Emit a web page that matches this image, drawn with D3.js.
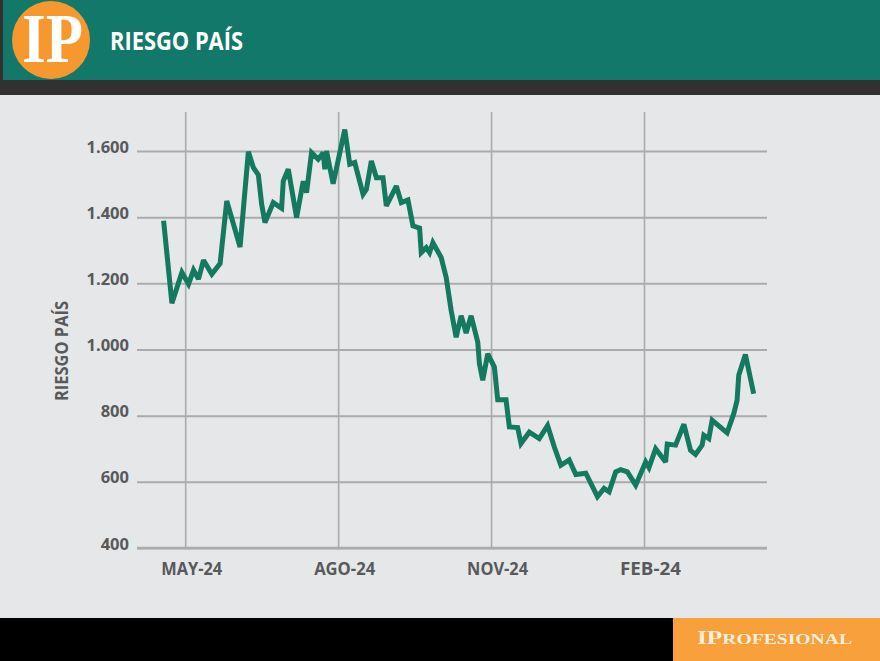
<!DOCTYPE html>
<html>
<head>
<meta charset="utf-8">
<script src="https://cdn.jsdelivr.net/npm/d3@7"></script>
<style>
  html, body { margin: 0; padding: 0; background: #e6e7e8; }
  svg { display: block; }
</style>
</head>
<body>
<div id="chart"></div>
<script>
// ---- Data ----
const dates = [
  "2024-04-18","2024-04-23","2024-04-29","2024-05-03","2024-05-06","2024-05-09","2024-05-12","2024-05-17",
  "2024-05-22","2024-05-26","2024-06-03","2024-06-08","2024-06-11","2024-06-14","2024-06-16","2024-06-18",
  "2024-06-23","2024-06-28","2024-06-29","2024-07-02","2024-07-07","2024-07-11","2024-07-13","2024-07-16",
  "2024-07-20","2024-07-23","2024-07-24","2024-07-25","2024-07-29","2024-08-05","2024-08-08","2024-08-11",
  "2024-08-16","2024-08-18","2024-08-21","2024-08-24","2024-08-28","2024-08-30","2024-09-05","2024-09-08",
  "2024-09-12","2024-09-15","2024-09-19","2024-09-20","2024-09-23","2024-09-25","2024-09-27","2024-10-02",
  "2024-10-05","2024-10-08","2024-10-11","2024-10-14","2024-10-17","2024-10-20","2024-10-24","2024-10-25",
  "2024-10-27","2024-10-30","2024-11-03","2024-11-05","2024-11-10","2024-11-12","2024-11-17","2024-11-19",
  "2024-11-24","2024-11-30","2024-12-05","2024-12-09","2024-12-13","2024-12-18","2024-12-22","2024-12-28",
  "2025-01-04","2025-01-08","2025-01-11","2025-01-15","2025-01-18","2025-01-22","2025-01-27","2025-02-02",
  "2025-02-04","2025-02-08","2025-02-14","2025-02-15","2025-02-20","2025-02-25","2025-03-01","2025-03-04",
  "2025-03-08","2025-03-09","2025-03-12","2025-03-14","2025-03-23","2025-03-27","2025-03-29","2025-03-30",
  "2025-04-03","2025-04-08"
];
const riesgo = [
  1389,1140,1233,1198,1240,1213,1270,1228,
  1260,1449,1310,1598,1550,1528,1439,1384,
  1444,1427,1509,1545,1399,1509,1474,1595,
  1575,1595,1545,1600,1501,1665,1560,1565,
  1469,1484,1570,1519,1519,1434,1494,1444,
  1452,1374,1367,1293,1308,1293,1323,1278,
  1218,1118,1037,1102,1050,1102,1022,957,
  907,987,947,848,848,766,764,716,
  750,731,770,706,650,666,622,626,
  555,580,570,630,637,630,590,660,
  643,700,660,714,711,774,695,683,
  711,741,731,786,748,806,846,922,
  985,866
];
const yTicks = [400, 600, 800, 1000, 1200, 1400, 1600];
const xTickDates = ["2024-05-01", "2024-08-01", "2024-11-01", "2025-02-01"];
const xTickLabels = ["MAY-24", "AGO-24", "NOV-24", "FEB-24"];
const xDomain = ["2024-04-02", "2025-04-16"];
const yDomain = [400, 1600];

// ---- Setup ----
const W = 880, H = 661;
const parse = d3.timeParse("%Y-%m-%d");
const data = dates.map((d, i) => ({ date: parse(d), value: riesgo[i] }));

const svg = d3.select("#chart").append("svg")
  .attr("width", W).attr("height", H)
  .attr("viewBox", `0 0 ${W} ${H}`);

// background
svg.append("rect").attr("width", W).attr("height", H).attr("fill", "#e6e7e8");

// header
svg.append("rect").attr("x", 0).attr("y", 0).attr("width", W).attr("height", 95).attr("fill", "#313131");
svg.append("rect").attr("x", 3).attr("y", 0).attr("width", W - 3).attr("height", 80).attr("fill", "#12796a");
svg.append("circle").attr("cx", 51).attr("cy", 40).attr("r", 39).attr("fill", "#f7982f");
svg.append("text").attr("x", 22).attr("y", 62)
  .attr("font-family", "'Liberation Serif', 'DejaVu Serif', serif")
  .attr("font-weight", 700)
  .attr("font-size", 70)
  .attr("fill", "#ffffff")
  .attr("textLength", 61).attr("lengthAdjust", "spacingAndGlyphs")
  .text("IP");
svg.append("text").attr("x", 110).attr("y", 50)
  .attr("font-family", "'Open Sans', sans-serif")
  .attr("font-weight", 700)
  .attr("font-size", 25)
  .attr("fill", "#ffffff")
  .attr("textLength", 133).attr("lengthAdjust", "spacingAndGlyphs")
  .text("RIESGO PAÍS");

// footer
svg.append("rect").attr("x", 0).attr("y", 618).attr("width", W).attr("height", H - 618).attr("fill", "#000000");
svg.append("rect").attr("x", 673).attr("y", 618).attr("width", W - 673).attr("height", H - 618).attr("fill", "#f7a03c");
const ft = svg.append("text").attr("x", 697).attr("y", 644)
  .attr("font-family", "'Liberation Serif', 'DejaVu Serif', serif")
  .attr("font-weight", 700)
  .attr("fill", "#fcefd9")
  .attr("textLength", 155).attr("lengthAdjust", "spacingAndGlyphs");
ft.append("tspan").attr("font-size", 18).text("IP");
ft.append("tspan").attr("font-size", 14).text("ROFESIONAL");

// ---- Chart ----
const x = d3.scaleTime().domain(xDomain.map(parse)).range([137, 767]);
const y = d3.scaleLinear().domain(yDomain).range([548, 151]);

const fmt = d3.formatLocale({ decimal: ",", thousands: ".", grouping: [3], currency: ["$", ""] }).format(",");
const labelColor = "#58595b";
const gridColor = "#a9abad";

// horizontal grid + y labels
const yAxis = svg.append("g").attr("transform", "translate(137,0)")
  .call(d3.axisLeft(y).tickValues(yTicks).tickFormat(fmt).tickSize(-630).tickPadding(8));
yAxis.select(".domain").remove();
yAxis.selectAll(".tick line").attr("stroke", gridColor).attr("stroke-width", 2);
yAxis.selectAll(".tick text")
  .attr("fill", labelColor)
  .attr("font-family", "'Open Sans', sans-serif")
  .attr("font-weight", 700)
  .attr("font-size", 16.5)
  .attr("dy", "0.06em");

// vertical grid + x labels
const xAxis = svg.append("g").attr("transform", "translate(0,548)")
  .call(d3.axisBottom(x).tickValues(xTickDates.map(parse))
    .tickFormat((d, i) => xTickLabels[i]).tickSize(-436));
xAxis.select(".domain").remove();
xAxis.selectAll(".tick line").attr("stroke", gridColor).attr("stroke-width", 1.6);
xAxis.selectAll(".tick text")
  .attr("fill", labelColor)
  .attr("font-family", "'Open Sans', sans-serif")
  .attr("font-weight", 700)
  .attr("font-size", 17)
  .attr("y", 27).attr("dy", 0).attr("dx", 6)
  .attr("textLength", 61).attr("lengthAdjust", "spacingAndGlyphs");

// x baseline
svg.append("line")
  .attr("x1", x.range()[0]).attr("x2", x.range()[1])
  .attr("y1", y(yDomain[0])).attr("y2", y(yDomain[0]))
  .attr("stroke", gridColor).attr("stroke-width", 2.4);

// y axis title
svg.append("text")
  .attr("transform", "translate(68,351) rotate(-90)")
  .attr("text-anchor", "middle")
  .attr("font-family", "'Open Sans', sans-serif")
  .attr("font-weight", 700)
  .attr("font-size", 17)
  .attr("fill", labelColor)
  .attr("textLength", 100).attr("lengthAdjust", "spacingAndGlyphs")
  .text("RIESGO PAÍS");

// line
const line = d3.line().x(d => x(d.date)).y(d => y(d.value));
svg.append("path").datum(data)
  .attr("d", line)
  .attr("fill", "none")
  .attr("stroke", "#13795f")
  .attr("stroke-width", 5)
  .attr("stroke-linejoin", "miter")
  .attr("stroke-miterlimit", 2.5);
</script>
</body>
</html>
